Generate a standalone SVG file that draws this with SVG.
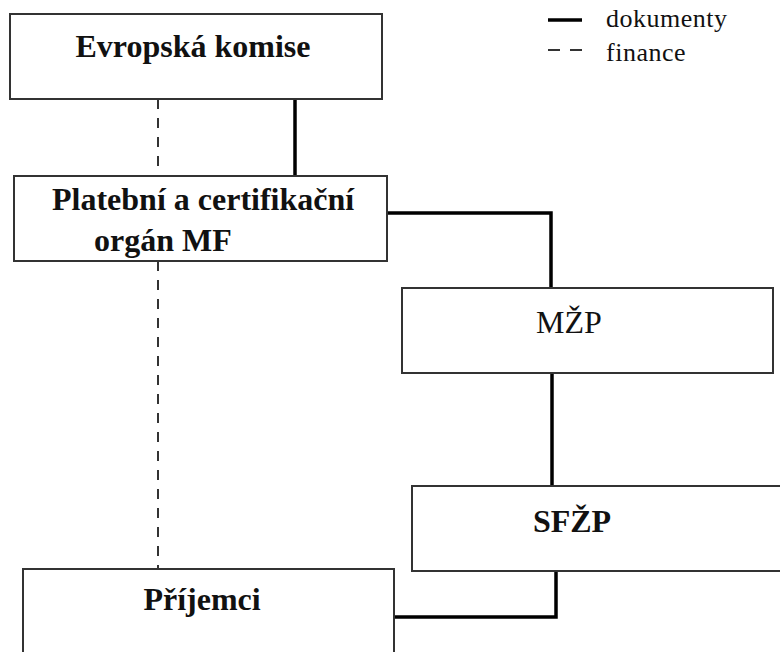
<svg xmlns="http://www.w3.org/2000/svg" width="780" height="652" viewBox="0 0 780 652">
<style>
.box{fill:#fff;stroke:#333;stroke-width:2}
.doc{fill:none;stroke:#000;stroke-width:3.5;stroke-linejoin:miter}
.fin{fill:none;stroke:#333;stroke-width:2;stroke-dasharray:10 9}
</style>
<rect width="780" height="652" fill="#fff"/>
<g id="legend" font-family="'Liberation Serif', 'DejaVu Serif', serif" font-size="26" fill="#111" letter-spacing="0.5">
<line x1="548" y1="20" x2="582" y2="20" stroke="#000" stroke-width="3.5"/>
<text x="606" y="27">dokumenty</text>
<line x1="548" y1="50" x2="582" y2="50" stroke="#333" stroke-width="2" stroke-dasharray="12 10"/>
<text x="606" y="61">finance</text>
</g>
<g id="connectors">
<line class="fin" x1="158" y1="99" x2="158" y2="176"/>
<line class="fin" x1="158" y1="261" x2="158" y2="569"/>
<line class="doc" x1="295" y1="98" x2="295" y2="176"/>
<polyline class="doc" points="387,213 551,213 551,288"/>
<line class="doc" x1="552" y1="373" x2="552" y2="486"/>
<polyline class="doc" points="556,571 556,617 393,617"/>
</g>
<g id="evropska-komise" font-family="'Liberation Serif', 'DejaVu Serif', serif" font-size="32" fill="#111">
<rect class="box" x="10" y="14" width="372" height="85"/>
<text x="193" y="57" text-anchor="middle" font-weight="bold">Evropská komise</text>
</g>
<g id="platebni-organ" font-family="'Liberation Serif', 'DejaVu Serif', serif" font-size="32" fill="#111">
<rect class="box" x="14" y="176" width="373" height="85"/>
<text x="52" y="210" font-weight="bold">Platební a certifikační</text>
<text x="94" y="251" font-weight="bold">orgán MF</text>
</g>
<g id="mzp" font-family="'Liberation Serif', 'DejaVu Serif', serif" font-size="32" fill="#111">
<rect class="box" x="402" y="288" width="371" height="85"/>
<text x="569" y="333" text-anchor="middle">MŽP</text>
</g>
<g id="sfzp" font-family="'Liberation Serif', 'DejaVu Serif', serif" font-size="32" fill="#111">
<rect class="box" x="412" y="486" width="380" height="85"/>
<text x="572" y="532" text-anchor="middle" font-weight="bold">SFŽP</text>
</g>
<g id="prijemci" font-family="'Liberation Serif', 'DejaVu Serif', serif" font-size="32" fill="#111">
<rect class="box" x="23" y="569" width="371" height="100"/>
<text x="202" y="610" text-anchor="middle" font-weight="bold">Příjemci</text>
</g>
</svg>
